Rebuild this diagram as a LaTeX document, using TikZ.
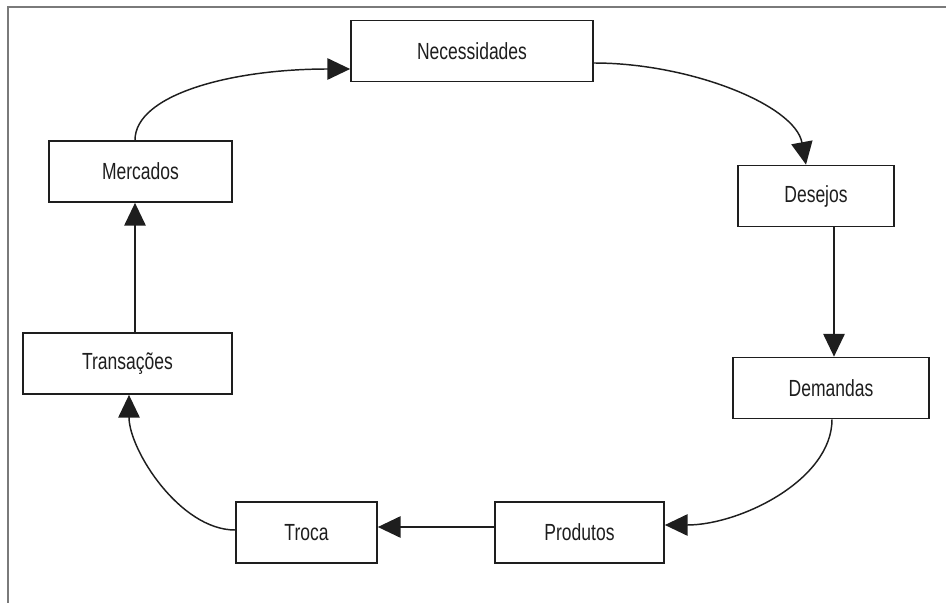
\documentclass[tikz,border=0pt]{standalone}
\usepackage{fontspec}
\setmainfont{Liberation Sans}[FakeStretch=0.75]
\usetikzlibrary{arrows.meta,calc}
\definecolor{framegray}{HTML}{7A7A7A}
\definecolor{ink}{HTML}{1E1E1E}
\tikzset{
  box/.style={draw=ink, line width=1.3pt, fill=white, minimum width={#1*0.75pt},
    minimum height=45.75pt, inner sep=0pt, text=ink,
    font=\fontsize{17.5}{21}\selectfont},
  arr/.style={draw=ink, line width=1.1pt, -{Triangle[length=17pt,width=16pt]}},
  frameline/.style={draw=framegray, line width=1.6pt}
}
\begin{document}
\begin{tikzpicture}[x=0.75pt,y=-0.75pt]
\useasboundingbox (0,0) rectangle (946,603);
\draw[frameline] (8,603) -- (8,7) -- (946,7);

\node[box=242] (nec)   at (472,51)      {Necessidades};
\node[box=183] (merc)  at (140.5,171.5) {Mercados};
\node[box=156] (des)   at (816,196)     {Desejos};
\node[box=196] (dem)   at (831,388)     {Demandas};
\node[box=169] (prod)  at (579.5,532.5) {Produtos};
\node[box=141] (troca) at (306.5,532.5) {Troca};
\node[box=209] (trans) at (127.5,363.5) {Transações};

\coordinate (m1) at ($(merc.north)+(-5.5,0)$);
\coordinate (n1) at ($(nec.west)+(0,18)$);
\coordinate (n2) at ($(nec.east)+(0,12)$);
\coordinate (d1) at ($(des.north)+(-10,0)$);
\coordinate (d2) at ($(des.south)+(18,0)$);
\coordinate (e1) at ($(dem.south)+(1,0)$);
\coordinate (p1) at ($(prod.east)+(0,-7.5)$);
\coordinate (p2) at ($(prod.west)+(0,-5.5)$);
\coordinate (t2) at ($(troca.west)+(0,-2.5)$);
\coordinate (r1) at ($(trans.south)+(1.5,0)$);
\coordinate (r2) at ($(trans.north)+(7.5,0)$);

\draw[arr] (m1) .. controls (135,95) and (230,69) .. (n1);
\draw[arr] (n2) .. controls (690,63) and (795,105) .. (d1);
\draw[arr] (d2) -- (d2 |- dem.north);
\draw[arr] (e1) .. controls (832,480) and (740,525) .. (p1);
\draw[arr] (p2) -- (p2 -| troca.east);
\draw[arr] (t2) .. controls (180,530) and (129,450) .. (r1);
\draw[arr] (r2) -- (r2 |- merc.south);
\end{tikzpicture}
\end{document}
